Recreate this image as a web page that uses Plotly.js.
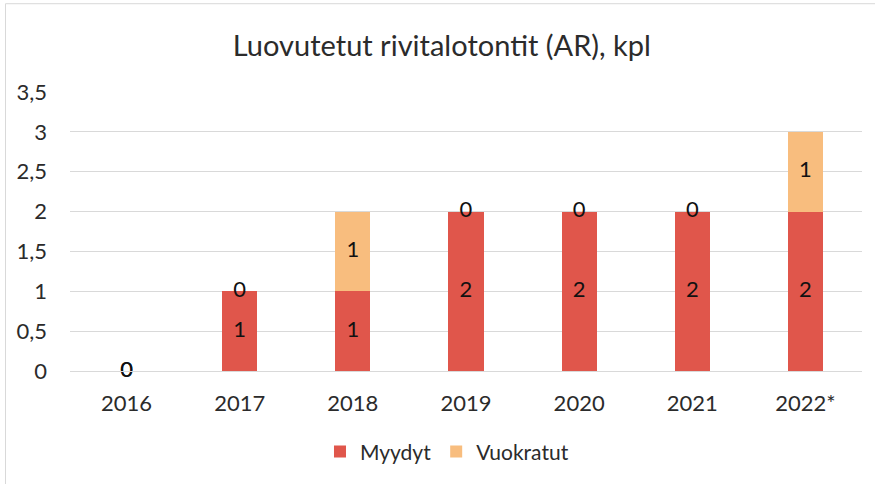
<!DOCTYPE html>
<html>
<head>
<meta charset="utf-8">
<script src="https://cdn.plot.ly/plotly-3.0.1.min.js"></script>
<style>html,body{margin:0;padding:0;background:#fff;}#chart{width:875px;height:484px;}</style>
</head>
<body>
<div id="chart"></div>
<script>
const categories = ['2016', '2017', '2018', '2019', '2020', '2021', '2022*'];
const myydyt = [0, 1, 1, 2, 2, 2, 2];
const vuokratut = [0, 0, 1, 0, 0, 0, 1];
const yTicks = [0, 0.5, 1, 1.5, 2, 2.5, 3, 3.5];
const yTickLabels = ['0', '0,5', '1', '1,5', '2', '2,5', '3', '3,5'];

const FONT = 'Lato, "Open Sans", sans-serif';
const RED = '#E0564B';
const ORANGE = '#F8BD7E';
const TXT = '#2b2b2b';

const myyMid = myydyt.map(v => v / 2);
const vuoMid = vuokratut.map((v, i) => myydyt[i] + v / 2);

const traces = [
  {type: 'bar', name: 'Myydyt', x: categories, y: myydyt, marker: {color: RED}, hoverinfo: 'skip'},
  {type: 'bar', name: 'Vuokratut', x: categories, y: vuokratut, marker: {color: ORANGE}, hoverinfo: 'skip'},
  {type: 'scatter', mode: 'text', x: categories, y: myyMid, text: myydyt.map(String),
   textfont: {family: FONT, size: 22, color: '#111'}, showlegend: false, hoverinfo: 'skip', cliponaxis: false},
  {type: 'scatter', mode: 'text', x: categories, y: vuoMid, text: vuokratut.map(String),
   textfont: {family: FONT, size: 22, color: '#111'}, showlegend: false, hoverinfo: 'skip', cliponaxis: false}
];

const layout = {
  width: 875, height: 484,
  margin: {l: 70, r: 13, t: 92, b: 106},
  paper_bgcolor: '#fff', plot_bgcolor: '#fff',
  barmode: 'stack', bargap: 0.69,
  font: {family: FONT, color: TXT},
  title: {text: 'Luovutetut rivitalotontit (AR), kpl', x: 0.505, xanchor: 'center', y: 0.905, yanchor: 'middle',
          font: {family: FONT, size: 29, color: TXT}},
  xaxis: {type: 'category', tickfont: {family: FONT, size: 22, color: TXT}, showgrid: false,
          showline: true, linecolor: '#D9D9D9', linewidth: 1, ticks: '', ticklabelstandoff: 13,
          fixedrange: true, automargin: false},
  yaxis: {range: [0, 3.5], tickvals: yTicks, ticktext: yTickLabels, tickfont: {family: FONT, size: 22, color: TXT},
          showgrid: true, gridcolor: '#D9D9D9', gridwidth: 1, zeroline: false, showline: false, ticks: '', ticklen: 0,
          ticklabelstandoff: 22, fixedrange: true, automargin: false},
  legend: {orientation: 'h', x: 0.476, xanchor: 'center', y: -0.29, yanchor: 'middle',
           font: {family: FONT, size: 21, color: TXT}, traceorder: 'normal', itemwidth: 30},
  shapes: [
    {type: 'rect', xref: 'paper', yref: 'paper', x0: (5.5 - 70) / 792, x1: 1.1, y0: -0.5, y1: (386 - 9.5) / 286,
     line: {color: '#D9D9D9', width: 1}, fillcolor: 'rgba(0,0,0,0)', layer: 'below'}
  ],
  showlegend: true
};

Plotly.newPlot('chart', traces, layout, {displayModeBar: false, staticPlot: true});
</script>
</body>
</html>
